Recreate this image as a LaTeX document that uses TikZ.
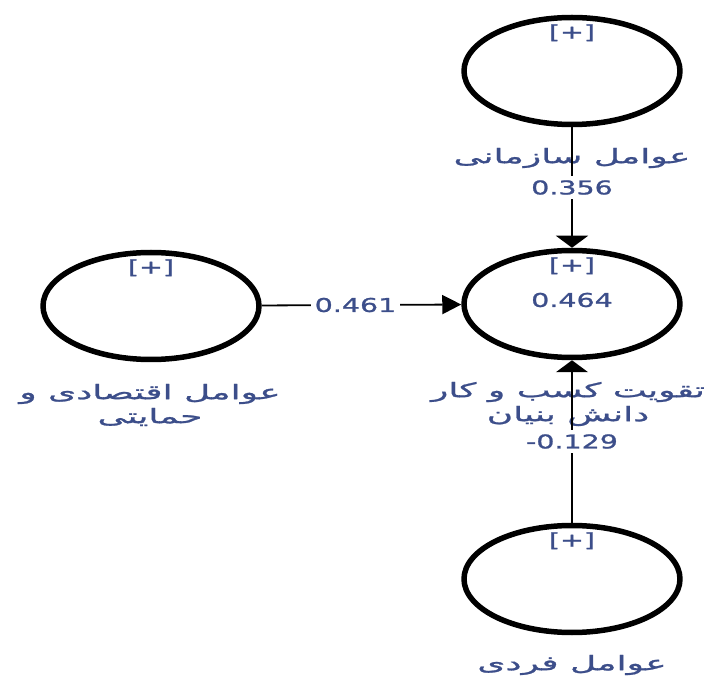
\documentclass[tikz,border=0pt]{standalone}
\usepackage{fontspec}
\setmainfont[FakeStretch=1.5,FakeBold=1.2]{DejaVu Sans}
\newfontfamily\arabicfont[Script=Arabic,FakeStretch=1.8,FakeBold=1.2]{DejaVu Sans}
\TeXXeTstate=1
\usetikzlibrary{shapes.geometric,arrows.meta}
\definecolor{lblblue}{RGB}{60,78,138}
\newcommand{\fa}[1]{{\arabicfont\fontsize{20}{24}\selectfont\beginR #1\endR}}
\begin{document}
\begin{tikzpicture}[x=1pt,y=-1pt,font=\fontsize{19}{24}\selectfont,line join=round,
  latent/.style={ellipse,draw,line width=5.5pt,minimum width=216pt,minimum height=107pt,inner sep=0pt},
  plustag/.style={text=lblblue,inner sep=0pt},
  lbl/.style={text=lblblue,align=center,inner sep=0pt},
  coef/.style={text=lblblue,fill=white,inner sep=4pt},
  link/.style={line width=1.8pt},
  vtip/.style={-{Triangle[length=12pt,width=32pt]}},
  htip/.style={-{Triangle[length=19pt,width=19pt]}}]
\useasboundingbox (0,0) rectangle (713,676);
% constructs
\node[latent] (org) at (572,71) {};
\node[latent] (econ) at (151,306) {};
\node[latent] (kbb) at (572,304) {};
\node[latent] (indiv) at (572,579) {};
\foreach \n in {org,econ,kbb,indiv}{\node[plustag] at ([yshift=-18pt]\n.north) {[+]};}
\node[lbl] at ([yshift=4pt]kbb.center) {0.464};
% names
\node[lbl] (orglbl) at (572,158) {\fa{عوامل سازمانی}};
\node[lbl] (econlbl) at (150,405) {\fa{عوامل اقتصادی و}\\\fa{حمایتی}};
\node[lbl] (kbblbl) at (568,404) {\fa{تقویت کسب و کار}\\\fa{دانش بنیان}};
\node[lbl] (indivlbl) at (572,665) {\fa{عوامل فردی}};
% paths
\draw[link,vtip] (org) -- node[coef] {0.356} (kbb);
\draw[link,htip] (econ) -- node[coef,pos=0.47] {0.461} (kbb);
\draw[link,vtip] (indiv) -- node[coef] {-0.129} (kbb);
\end{tikzpicture}
\end{document}
